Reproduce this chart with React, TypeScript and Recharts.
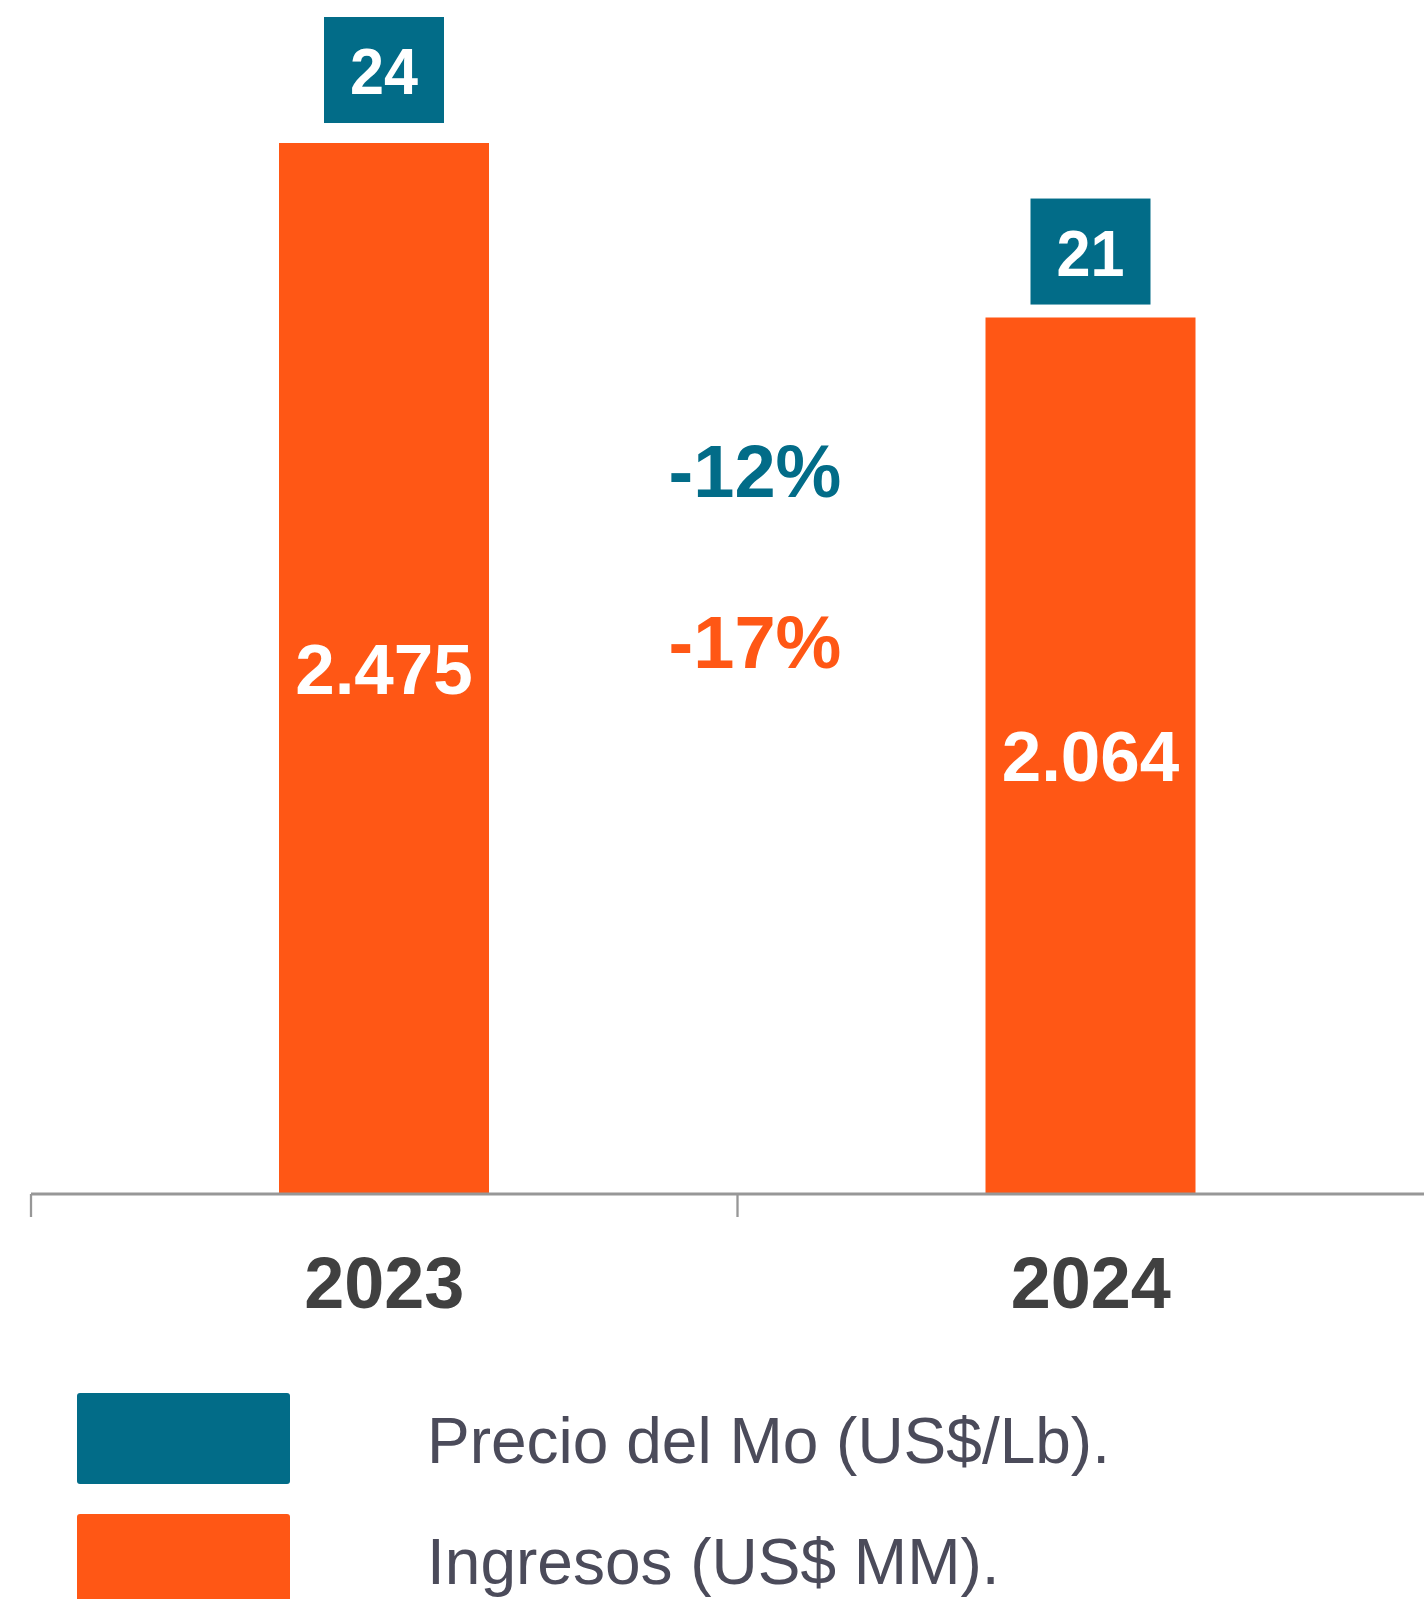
import React from 'react';
import { BarChart, Bar, XAxis, YAxis, LabelList, Legend, Customized } from 'recharts';

const years = ['2023', '2024'];
const ingresos = [2475, 2064];
const precioMo = [24, 21];
const variaciones = ['-12%', '-17%'];
const leyenda = ['Precio del Mo (US$/Lb).', 'Ingresos (US$ MM).'];

const TEAL = '#026c88';
const ORANGE = '#ff5715';
const FONT = '"Liberation Sans", Arial, Helvetica, sans-serif';

const W = 1460;
const H = 1599;
const margin = { top: 5, right: 16, left: 31, bottom: 0 };
const bandHalf = (W - margin.left - margin.right) / 4;
// space left between the price box and the top of its bar
const boxGap = [20, 13];

const chartData = years.map((y, i) => ({ year: y, ingresos: ingresos[i], precio: precioMo[i] }));

const fmtMiles = (v: number) => `${Math.floor(v / 1000)}.${String(v % 1000).padStart(3, '0')}`;

// tick line sits on the band boundary, label in the middle
const YearTick = (props: any) => {
    const { x, y, payload } = props;
    return (
        <g>
            <line x1={x - bandHalf} x2={x - bandHalf} y1={y} y2={y + 23} stroke="#979797" strokeWidth={2.3} />
            <text x={x} y={y + 114} textAnchor="middle" fill="#404040" fontSize={72} fontWeight="bold" fontFamily={FONT}>
                {payload.value}
            </text>
        </g>
    );
};

const PriceBox = (props: any) => {
    const { x, y, width, value, index } = props;
    const cx = x + width / 2;
    const bw = 120, bh = 106;
    const top = y - (boxGap[index] ?? 20) - bh;
    return (
        <g>
            <rect x={cx - bw / 2} y={top} width={bw} height={bh} fill={TEAL} />
            <text x={cx} y={top + bh / 2 + 24} textAnchor="middle" fill="#fff" fontSize={65} fontWeight="bold" fontFamily={FONT}
                transform={`translate(${cx} 0) scale(0.94 1) translate(${-cx} 0)`}>
                {value}
            </text>
        </g>
    );
};

const Variaciones = () => (
    <g>
        <text x={755} y={497} textAnchor="middle" fill={TEAL} fontSize={74} fontWeight="bold" fontFamily={FONT}>
            {variaciones[0]}
        </text>
        <text x={755} y={668} textAnchor="middle" fill={ORANGE} fontSize={74} fontWeight="bold" fontFamily={FONT}>
            {variaciones[1]}
        </text>
    </g>
);

const LegendContent = () => {
    const colors = [TEAL, ORANGE];
    return (
        <div style={{ position: 'relative', width: 1424, height: 206 }}>
            {leyenda.map((txt, i) => (
                <div key={txt} style={{ position: 'absolute', left: 0, top: i * 121, width: 1424, height: 91 }}>
                    <div style={{ position: 'absolute', left: 77, top: 0, width: 213, height: 91, background: colors[i], borderRadius: 3 }} />
                    <div style={{
                        position: 'absolute', left: 427, top: 16, fontSize: 64, lineHeight: '64px',
                        fontFamily: FONT, color: '#4b4b5a', whiteSpace: 'nowrap'
                    }}>
                        {txt}
                    </div>
                </div>
            ))}
        </div>
    );
};

export default function App() {
    return (
        <div style={{ position: 'absolute', left: 0, top: 0, width: 1424, height: H, overflow: 'hidden', background: '#fff' }}>
            <BarChart width={W} height={H} data={chartData} margin={margin}>
                <XAxis
                    dataKey="year"
                    height={H - 1194}
                    axisLine={{ stroke: '#979797', strokeWidth: 3 }}
                    tickLine={false}
                    tickSize={0}
                    tickMargin={0}
                    tick={<YearTick />}
                    interval={0}
                />
                <YAxis hide domain={[0, 2800]} />
                <Legend
                    layout="horizontal"
                    verticalAlign="middle"
                    align="center"
                    wrapperStyle={{ left: 0, top: 1393, width: 1424, height: 206 }}
                    content={<LegendContent />}
                />
                <Bar dataKey="ingresos" fill={ORANGE} barSize={210} isAnimationActive={false}>
                    <LabelList
                        dataKey="ingresos"
                        position="center"
                        formatter={(v: any) => fmtMiles(Number(v))}
                        fill="#fff"
                        fontSize={71}
                        fontWeight="bold"
                        fontFamily={FONT}
                    />
                    <LabelList dataKey="precio" content={<PriceBox />} />
                </Bar>
                <Customized component={Variaciones} />
            </BarChart>
        </div>
    );
}
